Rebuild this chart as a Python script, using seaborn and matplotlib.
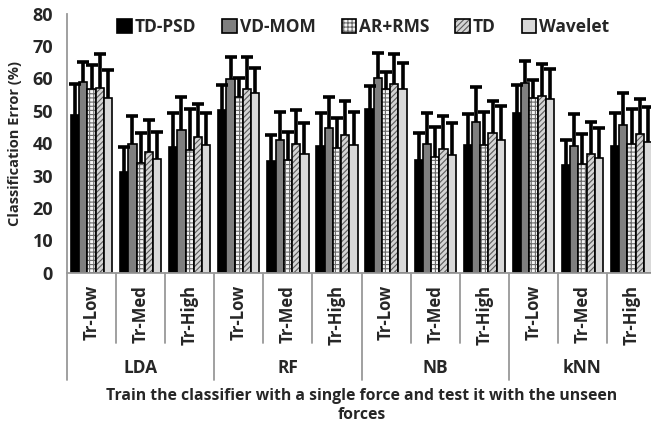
import numpy as np
import pandas as pd
import seaborn as sns
import matplotlib.pyplot as plt
from matplotlib.patches import Patch
from matplotlib.colors import to_rgba

classifiers = ["LDA", "RF", "NB", "kNN"]
trains = ["Tr-Low", "Tr-Med", "Tr-High"]
methods = ["TD-PSD", "VD-MOM", "AR+RMS", "TD", "Wavelet"]

# mean classification error, order: LDA(Low,Med,High), RF(...), NB(...), kNN(...)
td_psd = [48.7, 31.2, 38.9, 50.2, 34.6, 39.2, 50.5, 34.8, 39.4, 49.2, 33.2, 39.2]
vd_mom = [58.8, 39.9, 44.0, 59.7, 41.0, 44.6, 60.3, 39.9, 46.4, 58.5, 39.1, 45.6]
ar_rms = [56.7, 33.8, 37.9, 54.3, 34.8, 38.4, 56.6, 35.8, 39.4, 54.1, 33.5, 39.7]
td = [57.2, 37.3, 42.0, 56.9, 39.9, 42.5, 58.2, 38.1, 43.2, 54.5, 36.6, 42.8]
wavelet = [54.1, 35.0, 39.4, 55.6, 36.8, 39.4, 56.9, 36.3, 41.0, 53.8, 35.3, 40.4]

# upper error bar lengths
td_psd_err = [9.7, 7.7, 10.3, 7.7, 7.9, 10.0, 7.1, 8.5, 9.6, 8.7, 7.8, 10.0]
vd_mom_err = [6.3, 8.5, 10.3, 7.0, 8.5, 9.7, 7.6, 9.5, 11.0, 6.9, 9.9, 10.0]
ar_rms_err = [7.4, 9.2, 12.8, 5.7, 8.7, 9.3, 5.4, 9.1, 10.3, 5.4, 9.3, 11.0]
td_err = [10.5, 9.8, 10.0, 9.6, 10.3, 10.6, 9.5, 10.3, 9.8, 9.9, 10.0, 10.8]
wavelet_err = [8.5, 8.5, 10.0, 7.5, 9.3, 10.1, 8.0, 9.8, 10.5, 9.0, 9.3, 10.8]

means = [td_psd, vd_mom, ar_rms, td, wavelet]
errs = [td_psd_err, vd_mom_err, ar_rms_err, td_err, wavelet_err]

cats = [f"{c}|{t}" for c in classifiers for t in trains]
rows = []
for m, vals in zip(methods, means):
    for cat, v in zip(cats, vals):
        rows.append({"cat": cat, "method": m, "err": v})
df = pd.DataFrame(rows)

sns.set_style("white")
plt.rcParams["font.family"] = ["Open Sans", "DejaVu Sans"]
plt.rcParams["font.weight"] = "bold"
plt.rcParams["hatch.linewidth"] = 0.8

colors = ["#000000", "#7f7f7f", "#f4f4f4", "#d4d4d4", "#d9d9d9"]
hatches = ["", "", "++++", "//////", ""]
hatch_cols = ["black", "black", "#6a6a6a", "#5a5a5a", "black"]

fig = plt.figure(figsize=(6.51, 4.30), dpi=100)
ax = fig.add_axes([0.1029, 0.366, 0.905, 0.602])

sns.barplot(data=df, x="cat", y="err", hue="method", order=cats, hue_order=methods,
            palette=colors, width=0.84, edgecolor="black", linewidth=1.2,
            errorbar=None, legend=False, ax=ax)

for cont, h, hc, e in zip(ax.containers, hatches, hatch_cols, errs):
    xs, tops = [], []
    for p in cont:
        p.set_hatch(h)
        p._hatch_color = to_rgba(hc)
        xs.append(p.get_x() + p.get_width() / 2)
        tops.append(p.get_height())
    xs = np.array(xs)
    tops = np.array(tops)
    ax.vlines(xs, tops, tops + np.array(e), color="black", lw=2.6, zorder=5)
    ax.plot(xs, tops + np.array(e), ls="none", marker="_", ms=8, mew=2.6,
            color="black", zorder=5)

ax.set_ylim(0, 80)
ax.set_xlim(-0.5, len(cats) - 0.5)
ax.set_yticks(range(0, 81, 10))
ax.tick_params(axis="y", labelsize=13, length=5, width=1.2, color="#999999", direction="out", pad=5)
ax.set_xticks(range(len(cats)))
ax.set_xticklabels([c.split("|")[1] for c in cats], rotation=90, fontsize=12, fontweight="bold")
ax.tick_params(axis="x", length=0, pad=9)
sns.despine(ax=ax)
for s in ["left", "bottom"]:
    ax.spines[s].set_color("#999999")
    ax.spines[s].set_linewidth(1.3)
ax.set_xlabel("")
ax.set_ylabel("")

tr = ax.get_xaxis_transform()
for i in range(len(cats) + 1):
    xb = i - 0.5
    bottom = -0.414 if i % 3 == 0 else -0.271
    ax.plot([xb, xb], [0, bottom], color="#999999", lw=1.3, transform=tr, clip_on=False)
for i, c in enumerate(classifiers):
    ax.text(3 * i + 1, -0.368, c, transform=tr, ha="center", va="center",
            fontsize=12.5, fontweight="bold")

fig.text(0.023, 0.667, "Classification Error (%)", rotation=90, ha="center", va="center",
         fontsize=10.5, fontweight="bold")
fig.text(0.555, 0.057, "Train the classifier with a single force and test it with the unseen\nforces",
         ha="center", va="center", fontsize=11.3, fontweight="bold", linespacing=1.2)

handles = []
for c, h, hc in zip(colors, hatches, hatch_cols):
    hp = Patch(facecolor=c, edgecolor="black", hatch=h, lw=1.2)
    hp._hatch_color = to_rgba(hc)
    handles.append(hp)
leg = ax.legend(handles, methods, loc="center", bbox_to_anchor=(0.503, 0.949), ncol=5, frameon=False,
                prop={"size": 12.5, "weight": "bold"}, handlelength=0.85, handleheight=0.85,
                handletextpad=0.15, columnspacing=1.5)

fig.savefig("out.png", dpi=100)
